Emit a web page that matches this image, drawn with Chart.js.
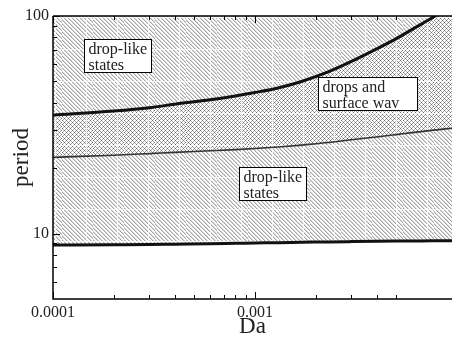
<!DOCTYPE html>
<html><head><meta charset="utf-8">
<script src="https://cdn.jsdelivr.net/npm/chart.js@4/dist/chart.umd.min.js"></script>
<style>html,body{margin:0;padding:0;background:#fff;}canvas{display:block;}</style>
</head><body>
<canvas id="c" width="452" height="341"></canvas>
<script>
// ---- data ----
const da      = [0.0001,0.0002,0.0003,0.0004,0.0006,0.0008,0.001,0.0013,0.0017,0.0023,0.003,0.004,0.005,0.006,0.0075,0.0095];
const lower   = [8.85,8.88,8.9,8.93,8.97,9.01,9.04,9.08,9.11,9.15,9.18,9.21,9.23,9.24,9.26,9.27];
const middle  = [22.4,22.9,23.3,23.6,24.0,24.3,24.6,25.0,25.5,26.2,27.0,27.8,28.5,29.1,29.8,30.5];
const upper   = [35,36.6,37.9,39.3,41.2,42.9,44.5,46.7,50.0,55.3,61.8,70.6,78.7,86.8,97.9,112];
const xMajorTicks = [0.0001,0.001];
const xMinorTicks = [0.0002,0.0003,0.0004,0.0005,0.0006,0.0007,0.0008,0.0009,0.002,0.003,0.004,0.005];
const yMajorTicks = [10,100];
const yMinorTicks = [6,7,8,9,20,30,40,50,60,70,80,90];
const xTickLabels = ['0.0001','0.001'];
const yTickLabels = ['10','100'];
const notes = [
  {da:0.000142, p:78.4, lines:['drop-like','states'], full:'drop-like'},
  {da:0.000832, p:20.2, lines:['drop-like','states'], full:'drop-like'},
  {da:0.00205,  p:52.3, lines:['drops and','surface wav'], full:'surface waves'}
];

function makePattern(cross){
  const t=document.createElement('canvas'); t.width=31; t.height=32;
  const g=t.getContext('2d');
  g.fillStyle='#fff'; g.fillRect(0,0,31,32);
  for(let y=0;y<32;y++){for(let x=0;x<31;x++){
    const a=((x-y)%4+4)%4, b=((x+y)%4+4)%4;
    let col=null;
    if(cross){
      if(a===0&&b===0) col='#6a6a6a'; else if(a===0||b===0) col='#a8a8a8';
    } else {
      if(a===0) col='#a6a6a6'; else if(a===1) col='#d8d8d8';
    }
    if(col){g.fillStyle=col; g.fillRect(x,y,1,1);}
  }}
  g.fillStyle='rgba(255,255,255,0.8)';
  g.fillRect(24,0,1,32); g.fillRect(0,17,31,1);
  return document.getElementById('c').getContext('2d').createPattern(t,'repeat');
}
const hatch=makePattern(false), cross=makePattern(true);

const frame={
  id:'frame',
  afterDatasetsDraw(chart){
    const ctx=chart.ctx, a=chart.chartArea, xs=chart.scales.x, ys=chart.scales.y;
    ctx.save();
    ctx.strokeStyle='#000'; ctx.lineWidth=1.5;
    ctx.beginPath();
    ctx.moveTo(a.left,a.top); ctx.lineTo(a.right,a.top);
    ctx.moveTo(a.left,a.top); ctx.lineTo(a.left,a.bottom); ctx.lineTo(a.right,a.bottom);
    ctx.stroke();
    ctx.lineWidth=1;
    ctx.beginPath();
    const xt=(v,len)=>{const p=Math.round(xs.getPixelForValue(v))+0.5;
      ctx.moveTo(p,a.bottom); ctx.lineTo(p,a.bottom-len);
      ctx.moveTo(p,a.top); ctx.lineTo(p,a.top+len);};
    const yt=(v,len)=>{const p=Math.round(ys.getPixelForValue(v))+0.5;
      ctx.moveTo(a.left,p); ctx.lineTo(a.left+len,p);};
    xMajorTicks.forEach(v=>xt(v,7)); xMinorTicks.forEach(v=>xt(v,4));
    yMajorTicks.forEach(v=>yt(v,7)); yMinorTicks.forEach(v=>yt(v,4));
    ctx.stroke();
    // note boxes
    ctx.font='16px "Liberation Serif", serif';
    ctx.textBaseline='middle';
    notes.forEach(n=>{
      const x=Math.round(xs.getPixelForValue(n.da))+0.5, y=Math.round(ys.getPixelForValue(n.p))+0.5;
      const w=Math.ceil(Math.max(ctx.measureText(n.full).width, ...n.lines.map(s=>ctx.measureText(s).width)))+8;
      const h=33;
      ctx.fillStyle='#fff'; ctx.fillRect(x,y,w,h);
      ctx.strokeStyle='#000'; ctx.lineWidth=1; ctx.strokeRect(x,y,w,h);
      ctx.fillStyle='#222';
      n.lines.forEach((s,i)=>ctx.fillText(s,x+4,y+10+i*16));
    });
    ctx.restore();
  }
};

new Chart(document.getElementById('c'),{
  type:'line',
  data:{datasets:[
    {data:da.map((x,i)=>({x,y:lower[i]})), borderColor:'#111', borderWidth:3, backgroundColor:hatch, fill:'+1'},
    {data:da.map((x,i)=>({x,y:middle[i]})), borderColor:'#333', borderWidth:1.6, backgroundColor:cross, fill:'+1'},
    {data:da.map((x,i)=>({x,y:upper[i]})), borderColor:'#111', borderWidth:3, backgroundColor:hatch, fill:'end'}
  ]},
  options:{
    responsive:false, animation:false, devicePixelRatio:1,
    layout:{padding:{top:16,right:0,left:0,bottom:0}},
    elements:{point:{radius:0}, line:{cubicInterpolationMode:'monotone'}},
    plugins:{legend:{display:false}, tooltip:{enabled:false}, filler:{drawTime:'beforeDatasetsDraw'}},
    scales:{
      x:{type:'logarithmic', min:0.0001, max:0.00944,
        grid:{display:false, drawTicks:false}, border:{display:false},
        afterBuildTicks:s=>{s.ticks=xMajorTicks.map(v=>({value:v}));},
        afterFit:s=>{s.height=42;},
        ticks:{padding:4, color:'#222', font:{family:'"Liberation Serif", serif', size:16},
          maxRotation:0, autoSkip:false,
          callback:(v,i)=>xTickLabels[i]},
        title:{display:true, text:'Da', color:'#222', padding:{top:0,bottom:0},
          font:{family:'"Liberation Serif", serif', size:23}}
      },
      y:{type:'logarithmic', min:5, max:100,
        grid:{display:false, drawTicks:false}, border:{display:false},
        afterBuildTicks:s=>{s.ticks=yMajorTicks.map(v=>({value:v}));},
        afterFit:s=>{s.width=53;},
        ticks:{padding:4, color:'#222', font:{family:'"Liberation Serif", serif', size:16},
          autoSkip:false, callback:(v,i)=>yTickLabels[i]},
        title:{display:true, text:'period', color:'#222', padding:{top:8,bottom:0},
          font:{family:'"Liberation Serif", serif', size:23}}
      }
    }
  },
  plugins:[frame]
});
</script>
</body></html>
